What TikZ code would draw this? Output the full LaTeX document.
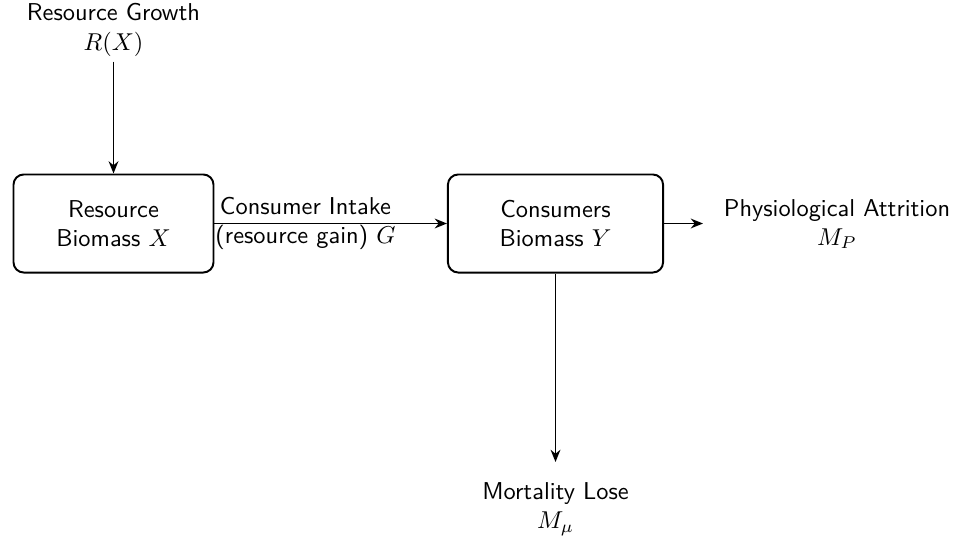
\documentclass[tikz,border=0pt]{standalone}
\usetikzlibrary{arrows.meta}
\begin{document}
\begin{tikzpicture}[x=0.41pt,y=-0.41pt,font=\sffamily,
  box/.style={draw,line width=0.8pt,rounded corners=4.2pt,minimum width=82pt,minimum height=40.2pt,align=center,inner sep=0pt},
  lbl/.style={align=center,inner sep=2pt},
  conn/.style={line width=0.8pt,-{Stealth[length=5pt,width=4pt]}}]
\useasboundingbox (0,0) rectangle (961,536);
\node[lbl] (growth) at (113.5,30) {Resource Growth\\$R(X)$};
\node[box] (res) at (113.5,223.5) {Resource\\Biomass $X$};
\node[box,minimum width=88.2pt] (con) at (555.5,223.5) {Consumers\\Biomass $Y$};
\node[lbl] (phys) at (837,224) {Physiological Attrition\\$M_P$};
\node[lbl] (mort) at (555.5,509) {Mortality Lose\\$M_\mu$};
\coordinate (pend) at (703,223.5);
\coordinate (mend) at (555.5,462);
\draw[conn] (growth) -- (res);
\draw[conn] (res) -- node[lbl,anchor=west,pos=0,inner sep=0pt] {Consumer Intake\\(resource gain) $G$} (con);
\draw[conn] (con) -- (pend);
\draw[conn] (con) -- (mend);
\end{tikzpicture}
\end{document}
